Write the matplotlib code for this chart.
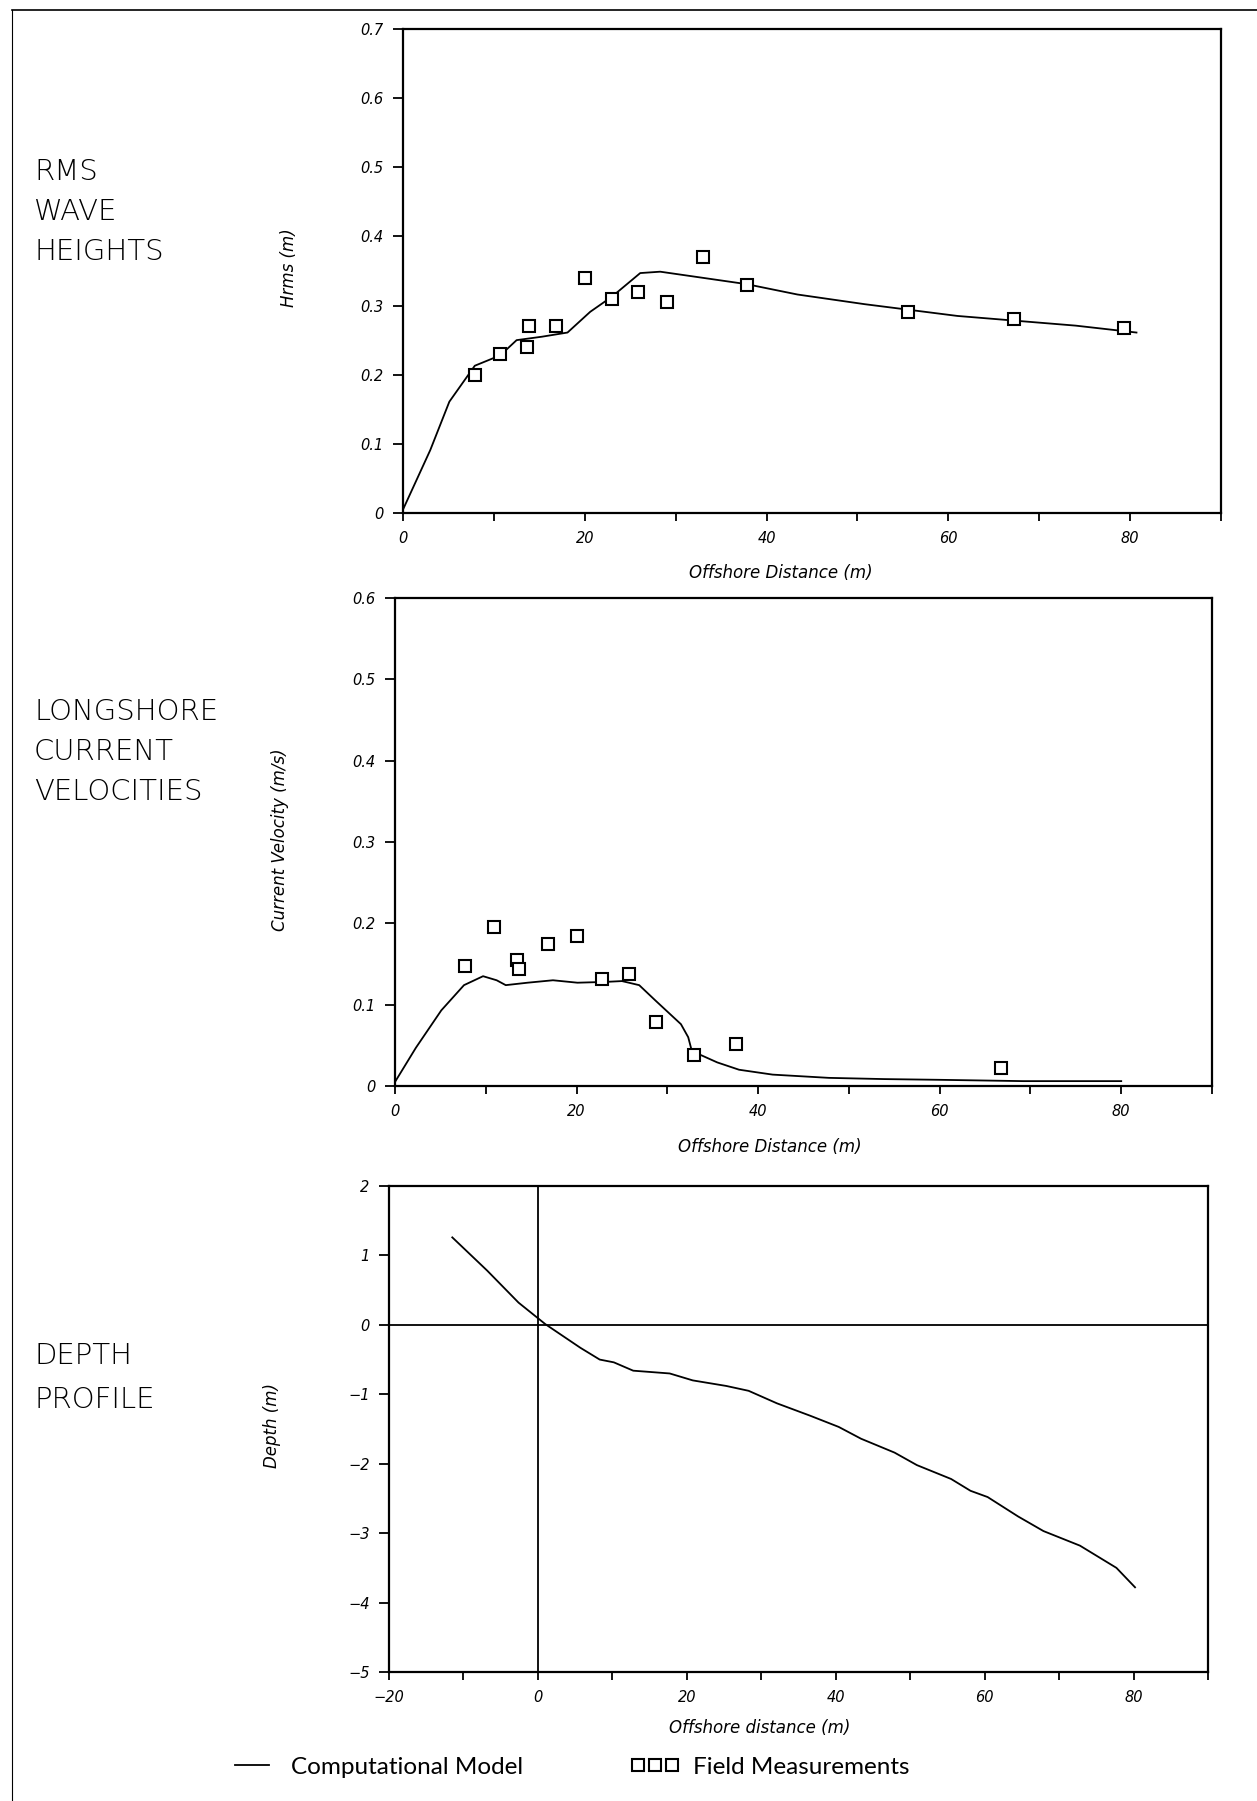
import matplotlib
matplotlib.use("Agg")
import matplotlib.pyplot as plt
from matplotlib.lines import Line2D
from matplotlib.ticker import MultipleLocator, FuncFormatter

# ---------------- data ----------------
# RMS wave heights
hrms_meas_x = [7.9, 10.7, 13.6, 13.9, 16.8, 20.0, 23.0, 25.9, 29.0, 33.0, 37.8, 55.6, 67.2, 79.3]
hrms_meas_y = [0.20, 0.23, 0.24, 0.27, 0.27, 0.34, 0.31, 0.32, 0.305, 0.37, 0.33, 0.29, 0.28, 0.268]
hrms_model_x = [0, 3.0, 5.1, 7.9, 10.7, 12.5, 15.3, 18.1, 20.6, 23.0, 26.1, 28.3, 32.0,
                37.8, 43.4, 50.8, 55.6, 61.0, 67.5, 74.0, 80.7]
hrms_model_y = [0.005, 0.091, 0.161, 0.213, 0.228, 0.250, 0.255, 0.261, 0.291, 0.313, 0.347,
                0.349, 0.342, 0.331, 0.316, 0.302, 0.294, 0.285, 0.278, 0.271, 0.261]

# Longshore current velocities
vel_meas_x = [7.7, 10.9, 13.4, 13.7, 16.9, 20.0, 22.8, 25.8, 28.7, 32.9, 37.6, 66.8]
vel_meas_y = [0.147, 0.196, 0.155, 0.144, 0.174, 0.185, 0.131, 0.138, 0.079, 0.038, 0.052, 0.022]
vel_model_x = [0, 2.3, 5.1, 7.6, 9.7, 11.2, 12.2, 14.6, 17.4, 20.1, 23.2, 25.0, 26.9, 28.7,
               31.5, 32.3, 32.7, 35.5, 37.9, 41.6, 47.8, 53.9, 60.0, 69.2, 80.0]
vel_model_y = [0.005, 0.047, 0.093, 0.124, 0.135, 0.130, 0.124, 0.127, 0.130, 0.127, 0.128,
               0.129, 0.124, 0.105, 0.076, 0.060, 0.043, 0.029, 0.020, 0.014, 0.010, 0.0085,
               0.0076, 0.006, 0.006]

# Depth profile
depth_x = [-11.5, -6.8, -2.6, 1.0, 5.7, 8.3, 10.2, 12.8, 17.7, 20.8, 25.3, 28.3, 32.1, 36.6,
           40.4, 43.4, 47.9, 50.9, 55.5, 58.1, 60.4, 64.5, 67.9, 72.8, 77.7, 80.2]
depth_y = [1.26, 0.78, 0.32, 0.01, -0.33, -0.50, -0.54, -0.66, -0.70, -0.80, -0.88, -0.95,
           -1.13, -1.31, -1.47, -1.64, -1.84, -2.02, -2.22, -2.39, -2.48, -2.76, -2.97,
           -3.18, -3.50, -3.78]

section_titles = [["RMS", "WAVE", "HEIGHTS"],
                  ["LONGSHORE", "CURRENT", "VELOCITIES"],
                  ["DEPTH", "PROFILE"]]
y_labels = ["Hrms (m)", "Current Velocity (m/s)", "Depth (m)"]
x_labels = ["Offshore Distance (m)", "Offshore Distance (m)", "Offshore distance (m)"]
legend_labels = ["Computational Model", "Field Measurements"]

# ---------------- figure ----------------
W, H = 1257, 1801
fig = plt.figure(figsize=(W / 100, H / 100), dpi=100)
fig.patch.set_facecolor("white")

TICKFS = 10.5
LABFS = 12


def add_ax(left, top, right, bottom):
    return fig.add_axes([left / W, 1 - bottom / H, (right - left) / W, (bottom - top) / H])


def fmt_dec(v, pos):
    if abs(v) < 1e-9:
        return "0"
    return f"{v:.1f}"


def fmt_int(v, pos):
    return f"{int(round(v))}".replace("-", "\u2212")


def style(ax, xlabel, ylabel, xlab_y, ylab_x, ylab_y, xlab_x):
    for s in ax.spines.values():
        s.set_linewidth(1.6)
        s.set_color("black")
    ax.tick_params(axis="both", which="both", direction="out", top=False, right=False,
                   width=1.3, labelsize=TICKFS, colors="black")
    ax.tick_params(axis="x", which="major", length=6, pad=7)
    ax.tick_params(axis="x", which="minor", length=6)
    ax.tick_params(axis="y", which="major", length=7, pad=7)
    for lbl in ax.get_xticklabels() + ax.get_yticklabels():
        lbl.set_fontstyle("italic")
    fig.text(xlab_x / W, 1 - xlab_y / H, xlabel, ha="center", va="center",
             fontsize=LABFS, fontstyle="italic")
    fig.text(ylab_x / W, 1 - ylab_y / H, ylabel, ha="center", va="center",
             fontsize=LABFS, fontstyle="italic", rotation=90)


line_kw = dict(color="black", linewidth=1.3)
mark_kw = dict(linestyle="none", marker="s", markersize=8.5, markerfacecolor="white",
               markeredgecolor="black", markeredgewidth=1.5)

# --- RMS wave heights ---
ax1 = add_ax(403, 29, 1221, 513)
ax1.plot(hrms_model_x, hrms_model_y, **line_kw)
ax1.plot(hrms_meas_x, hrms_meas_y, clip_on=False, **mark_kw)
ax1.set_xlim(0, 90)
ax1.set_ylim(0, 0.7)
ax1.xaxis.set_major_locator(MultipleLocator(20))
ax1.xaxis.set_minor_locator(MultipleLocator(10))
ax1.yaxis.set_major_locator(MultipleLocator(0.1))
ax1.yaxis.set_major_formatter(FuncFormatter(fmt_dec))
ax1.xaxis.set_major_formatter(FuncFormatter(fmt_int))
style(ax1, x_labels[0], y_labels[0], 573, 289, 268, 781)

# --- Longshore current velocities ---
ax2 = add_ax(395, 598, 1212, 1086)
ax2.plot(vel_model_x, vel_model_y, **line_kw)
ax2.plot(vel_meas_x, vel_meas_y, clip_on=False, **mark_kw)
ax2.set_xlim(0, 90)
ax2.set_ylim(0, 0.6)
ax2.xaxis.set_major_locator(MultipleLocator(20))
ax2.xaxis.set_minor_locator(MultipleLocator(10))
ax2.yaxis.set_major_locator(MultipleLocator(0.1))
ax2.yaxis.set_major_formatter(FuncFormatter(fmt_dec))
ax2.xaxis.set_major_formatter(FuncFormatter(fmt_int))
style(ax2, x_labels[1], y_labels[1], 1147, 280, 840, 770)

# --- Depth profile ---
ax3 = add_ax(389, 1186, 1208, 1672)
ax3.axhline(0, color="black", linewidth=1.3)
ax3.axvline(0, color="black", linewidth=1.3)
ax3.plot(depth_x, depth_y, **line_kw)
ax3.set_xlim(-20, 90)
ax3.set_ylim(-5, 2)
ax3.xaxis.set_major_locator(MultipleLocator(20))
ax3.xaxis.set_minor_locator(MultipleLocator(10))
ax3.yaxis.set_major_locator(MultipleLocator(1))
ax3.xaxis.set_major_formatter(FuncFormatter(fmt_int))
ax3.yaxis.set_major_formatter(FuncFormatter(fmt_int))
style(ax3, x_labels[2], y_labels[2], 1728, 272, 1425, 760)

# --- section titles on the left ---
title_rows = [[172, 212, 252], [712, 752, 792], [1356, 1400]]
for lines, rows in zip(section_titles, title_rows):
    for txt, yy in zip(lines, rows):
        fig.text(34 / W, 1 - yy / H, txt, ha="left", va="center", fontsize=21,
                 fontweight="light", family="DejaVu Sans")

# --- legend ---
handles = [Line2D([], [], **line_kw),
           Line2D([], [], **mark_kw)]
fig.legend(handles, legend_labels, loc="center left",
           bbox_to_anchor=(228 / W, 1 - 1767 / H), ncol=2, frameon=False,
           numpoints=3, handlelength=2.0, handletextpad=0.6, columnspacing=4.4,
           borderpad=0, borderaxespad=0,
           prop={"family": ["Lato", "DejaVu Sans"], "size": 17.5})

# --- page border of the scanned sheet ---
fig.add_artist(Line2D([12 / W, 1.0], [1 - 10 / H, 1 - 10 / H], transform=fig.transFigure,
                      color="black", linewidth=1.2))
fig.add_artist(Line2D([12 / W, 12 / W], [1 - 10 / H, 0.0], transform=fig.transFigure,
                      color="black", linewidth=0.8))

fig.savefig("out.png", dpi=100, facecolor="white")
